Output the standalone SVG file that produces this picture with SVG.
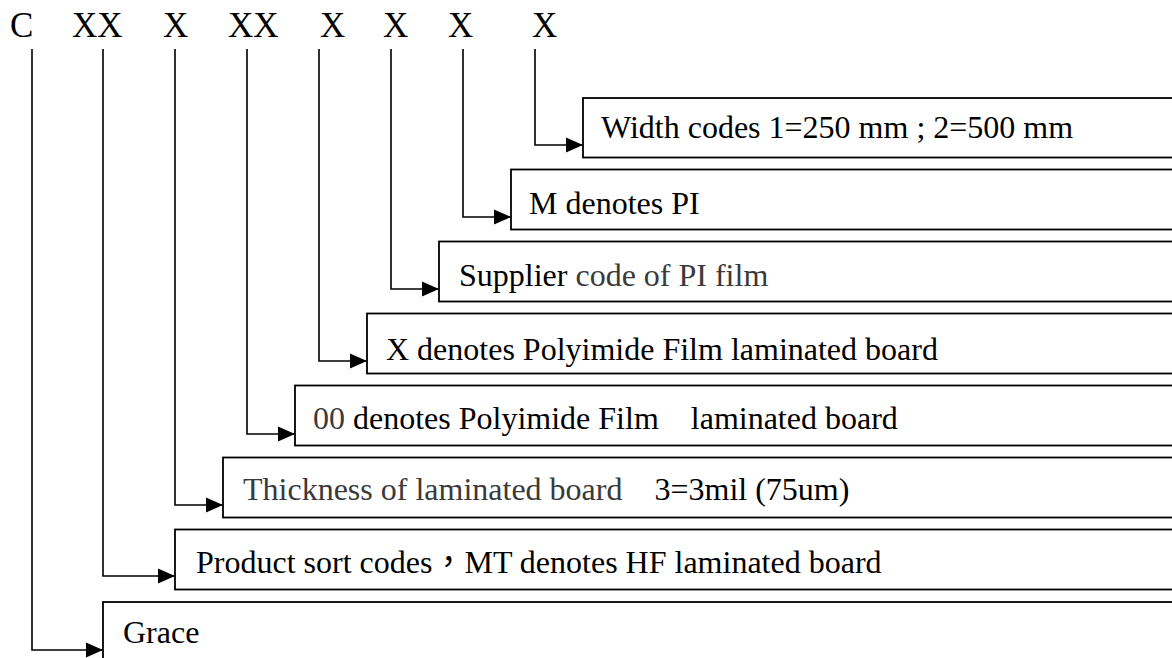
<svg xmlns="http://www.w3.org/2000/svg" width="1172" height="658" viewBox="0 0 1172 658">
<defs>
<marker id="ah" markerUnits="userSpaceOnUse" markerWidth="18" markerHeight="18" viewBox="0 0 18 18" refX="17" refY="9" orient="auto">
<path d="M0,1.5 L17,9 L0,16.5 Z" fill="#000"/>
</marker>
<style>
.box{fill:#fff;stroke:#000;stroke-width:1.8}
.conn{fill:none;stroke:#000;stroke-width:1.6}
.t{font-size:32px;fill:#000}
.g{fill:#3a3a3a}
.code{font-size:35px;fill:#000}
</style>
</defs>
<rect width="1172" height="658" fill="#fff"/>
<g id="codes" font-family="'Liberation Serif', 'Times New Roman', 'DejaVu Serif', serif">
<text class="code" x="10" y="37">C</text>
<text class="code" x="72" y="37">XX</text>
<text class="code" x="163" y="37">X</text>
<text class="code" x="228" y="37">XX</text>
<text class="code" x="320" y="37">X</text>
<text class="code" x="383" y="37">X</text>
<text class="code" x="448" y="37">X</text>
<text class="code" x="532" y="37">X</text>
</g>
<g font-family="'Liberation Serif', 'Times New Roman', 'DejaVu Serif', serif">
<g id="n-width"><rect class="box" x="583" y="98" width="600" height="59.5"/><text class="t" x="601" y="138">Width codes 1=250 mm ; 2=500 mm</text></g>
<g id="n-m"><rect class="box" x="511" y="169.5" width="680" height="60"/><text class="t" x="529" y="214">M denotes PI</text></g>
<g id="n-supplier"><rect class="box" x="439" y="241.5" width="750" height="60"/><text class="t" x="459" y="286">Supplier <tspan class="g">code of PI film</tspan></text></g>
<g id="n-x"><rect class="box" x="367" y="313.5" width="820" height="60"/><text class="t" x="386" y="360">X denotes Polyimide Film laminated board</text></g>
<g id="n-00"><rect class="box" x="295" y="385.5" width="890" height="60"/><text class="t" x="313" y="429" xml:space="preserve"><tspan class="g">00</tspan> denotes Polyimide Film    laminated board</text></g>
<g id="n-thick"><rect class="box" x="223" y="457.5" width="960" height="60"/><text class="t" x="243" y="500" xml:space="preserve"><tspan class="g">Thickness of laminated board</tspan>    3=3mil (75um)</text></g>
<g id="n-product"><rect class="box" x="175" y="529.5" width="1010" height="60"/><text class="t" x="196" y="573">Product sort codes<tspan font-family="'Noto Sans CJK TC','Noto Sans CJK SC',sans-serif">，</tspan>MT denotes HF laminated board</text></g>
<g id="n-grace"><rect class="box" x="103" y="602" width="1090" height="80"/><text class="t" x="123" y="643">Grace</text></g>
</g>
<g id="connectors">
<path class="conn" marker-end="url(#ah)" d="M535,49 V145 H583"/>
<path class="conn" marker-end="url(#ah)" d="M463,49 V217 H511"/>
<path class="conn" marker-end="url(#ah)" d="M391,49 V289 H439"/>
<path class="conn" marker-end="url(#ah)" d="M319,49 V361 H367"/>
<path class="conn" marker-end="url(#ah)" d="M247,49 V434 H295"/>
<path class="conn" marker-end="url(#ah)" d="M175,49 V505 H223"/>
<path class="conn" marker-end="url(#ah)" d="M103,49 V576 H175"/>
<path class="conn" marker-end="url(#ah)" d="M32,49 V650 H103"/>
</g>
</svg>
